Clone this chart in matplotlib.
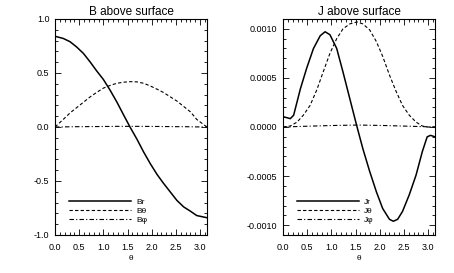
import numpy as np
import matplotlib
matplotlib.use('Agg')
import matplotlib.pyplot as plt
from matplotlib.ticker import MultipleLocator, FormatStrFormatter

plt.rcParams['font.family'] = ['Liberation Sans', 'DejaVu Sans']

# B field above surface
theta_b = [0.0, 0.17, 0.31, 0.45, 0.59, 0.73, 0.86, 1.0, 1.14, 1.28, 1.42, 1.55,
           1.69, 1.83, 1.97, 2.11, 2.24, 2.38, 2.52, 2.66, 2.8, 2.93, 3.14]
b_r = [0.84, 0.82, 0.79, 0.74, 0.68, 0.60, 0.52, 0.44, 0.34, 0.23, 0.11, 0.0,
       -0.11, -0.23, -0.34, -0.44, -0.52, -0.60, -0.68, -0.74, -0.78, -0.82, -0.84]
b_th = [0.0, 0.07, 0.13, 0.18, 0.23, 0.28, 0.32, 0.36, 0.385, 0.405, 0.415, 0.42,
        0.418, 0.405, 0.38, 0.35, 0.32, 0.28, 0.24, 0.19, 0.14, 0.07, 0.0]
b_ph = [0.0, 0.001, 0.002, 0.003, 0.003, 0.004, 0.004, 0.005, 0.005, 0.006, 0.006, 0.006,
        0.006, 0.006, 0.005, 0.005, 0.004, 0.004, 0.003, 0.003, 0.002, 0.001, 0.0]

# J above surface
theta_jr = [0.0, 0.08, 0.15, 0.22, 0.36, 0.49, 0.63, 0.77, 0.87, 0.97, 1.11, 1.24,
            1.38, 1.52, 1.65, 1.79, 1.93, 2.06, 2.20, 2.28, 2.37, 2.47, 2.61, 2.75,
            2.88, 2.98, 3.05, 3.14]
j_r = [1.05e-4, 0.95e-4, 0.85e-4, 1.2e-4, 3.9e-4, 6.0e-4, 8.0e-4, 9.3e-4, 9.7e-4,
       9.4e-4, 8.0e-4, 5.6e-4, 2.9e-4, 0.2e-4, -2.2e-4, -4.5e-4, -6.6e-4, -8.3e-4,
       -9.4e-4, -9.6e-4, -9.4e-4, -8.6e-4, -6.9e-4, -4.9e-4, -2.5e-4, -1.0e-4,
       -0.85e-4, -1.0e-4]
theta_jt = [0.0, 0.15, 0.29, 0.42, 0.56, 0.70, 0.83, 0.97, 1.11, 1.24, 1.38, 1.53,
            1.65, 1.79, 1.93, 2.06, 2.20, 2.34, 2.47, 2.61, 2.75, 2.88, 2.98, 3.14]
j_th = [0.0, 0.1e-4, 0.5e-4, 1.2e-4, 2.2e-4, 3.8e-4, 5.6e-4, 7.5e-4, 9.0e-4, 10.0e-4,
        10.5e-4, 10.7e-4, 10.5e-4, 9.9e-4, 8.7e-4, 7.2e-4, 5.3e-4, 3.6e-4, 2.2e-4,
        1.2e-4, 0.5e-4, 0.1e-4, 0.0, 0.0]
theta_jp = [0.0, 0.5, 1.0, 1.55, 2.1, 2.6, 3.14]
j_ph = [0.0, 0.08e-4, 0.15e-4, 0.2e-4, 0.15e-4, 0.08e-4, 0.0]

fig = plt.figure(figsize=(4.54, 2.73), dpi=100)
ax1 = fig.add_axes([55 / 454, 38 / 273, 152 / 454, 216 / 273])
ax2 = fig.add_axes([283 / 454, 38 / 273, 152 / 454, 216 / 273])

styles = [dict(ls='-', lw=1.1), dict(ls=(0, (3, 2)), lw=0.8),
          dict(ls=(0, (4, 2, 1, 2)), lw=0.8)]

ax1.plot(theta_b, b_r, color='k', label='Br', **styles[0])
ax1.plot(theta_b, b_th, color='k', label='B\u03b8', **styles[1])
ax1.plot(theta_b, b_ph, color='k', label='B\u03c6', **styles[2])

ax2.plot(theta_jr, j_r, color='k', label='Jr', **styles[0])
ax2.plot(theta_jt, j_th, color='k', label='J\u03b8', **styles[1])
ax2.plot(theta_jp, j_ph, color='k', label='J\u03c6', **styles[2])

ax1.set_ylim(-1.0, 1.0)
ax1.yaxis.set_major_locator(MultipleLocator(0.5))
ax1.yaxis.set_minor_locator(MultipleLocator(0.1))
ax1.yaxis.set_major_formatter(FormatStrFormatter('%.1f'))
ax1.set_title('B above surface', fontsize=8.5, pad=3)

ax2.set_ylim(-0.0011, 0.0011)
ax2.yaxis.set_major_locator(MultipleLocator(0.0005))
ax2.yaxis.set_minor_locator(MultipleLocator(0.0001))
ax2.yaxis.set_major_formatter(FormatStrFormatter('%.4f'))
ax2.set_title('J above surface', fontsize=8.5, pad=3)

for ax in (ax1, ax2):
    ax.set_xlim(0, np.pi)
    ax.xaxis.set_major_locator(MultipleLocator(0.5))
    ax.xaxis.set_minor_locator(MultipleLocator(0.1))
    ax.xaxis.set_major_formatter(FormatStrFormatter('%.1f'))
    ax.tick_params(which='both', direction='in', top=True, right=True,
                   labelsize=6.5, width=0.6, pad=4)
    ax.tick_params(axis='x', which='major', pad=6)
    ax.tick_params(which='major', length=4)
    ax.tick_params(which='minor', length=2)
    for s in ax.spines.values():
        s.set_linewidth(0.8)
    ax.set_xlabel('\u03b8', fontsize=6, labelpad=2)
    ax.legend(loc='lower left', bbox_to_anchor=(0.09, 0.05), frameon=False,
              fontsize=6, handlelength=7.5, handletextpad=0.6, labelspacing=0.15,
              borderpad=0, borderaxespad=0)

fig.savefig('out.png', dpi=100)
